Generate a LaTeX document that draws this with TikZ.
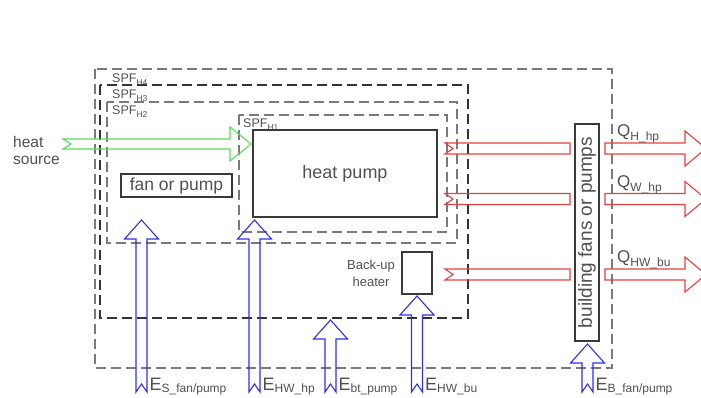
\documentclass[tikz,border=0pt]{standalone}
\usepackage{fontspec}
\setmainfont{Liberation Sans}
\usepackage{xcolor}
\usetikzlibrary{positioning}
\definecolor{txt}{HTML}{505050}
\definecolor{boxc}{HTML}{3A3A3A}
\definecolor{dashg}{HTML}{7A7A7A}
\definecolor{grn}{HTML}{55DD55}
\definecolor{rd}{HTML}{E54040}
\definecolor{blu}{HTML}{2F2FE6}
\newcommand{\spf}[1]{SPF\raisebox{-3.5pt}{\fontsize{8.5}{9}\selectfont #1}}
\newcommand{\qlab}[1]{{\fontsize{17}{18}\selectfont Q}\raisebox{-4pt}{\fontsize{12}{13}\selectfont #1}}
\newcommand{\elab}[1]{{\fontsize{18}{18}\selectfont E}\raisebox{-2pt}{\fontsize{12}{13}\selectfont #1}}

\begin{document}
\begin{tikzpicture}[x=1pt,y=-1pt,every node/.style={font=\fontsize{12.5}{14}\selectfont,text=txt,inner sep=0pt},
  box/.style={draw=boxc,line width=1.4pt},
  spfbox/.style={draw=dashg,line width=1.15pt,dash pattern=on 10pt off 5pt},
  srcarrow/.style={draw=grn,line width=1.1pt},
  outarrow/.style={draw=rd,line width=1.1pt},
  elecarrow/.style={draw=blu,line width=1.1pt}]
  \useasboundingbox (0,0) rectangle (701,397); \clip (0,0) rectangle (701,397);
  % system boundaries
  \draw[spfbox] (95,69) rectangle (612,368);
  \draw[spfbox,draw=black!80] (100,85) rectangle (468,318);
  \draw[spfbox] (107,102) rectangle (457,243);
  \draw[spfbox] (239,115) rectangle (447,232);
  \node[anchor=base west] (h4) at (112,82) {\spf{H4}};
  \node[anchor=base west] (h3) at (112,98) {\spf{H3}};
  \node[anchor=base west] (h2) at (112,114) {\spf{H2}};
  \node[anchor=base west] (h1) at (243,127) {\spf{H1}};
  % components
  \node[box,minimum width=184,minimum height=87,font=\fontsize{18}{20}\selectfont] (hp) at (345,173.5) {heat pump};
  \node[box,minimum width=111,minimum height=23,font=\fontsize{17.5}{20}\selectfont] (fan) at (176.5,185.5) {fan or pump};
  \node[box,minimum width=30,minimum height=42] (bu) at (417,273) {};
  \node[align=center,font=\fontsize{13}{17}\selectfont] (bulbl) at (371,273) {Back-up\\heater};
  \node[box,rotate=90,minimum width=217,minimum height=24,font=\fontsize{19}{20}\selectfont] (bfp) at (587,232.5) {building fans or pumps};
  \node[anchor=west,align=left,font=\fontsize{15.5}{17}\selectfont] (src) at (13,150) {heat\\source};
  % heat source
  \draw[srcarrow] (63,139) -- (230,139) -- (230,127) -- (251,144) -- (230,161) -- (230,149) -- (63,149) -- (71,144) -- cycle;
  % heat delivered
  \foreach \c/\q [count=\i] in {148.5/H\_hp,199/W\_hp,274.5/HW\_bu}{
    \draw[outarrow] (445,\c-5.5) -- (570,\c-5.5) -- (570,\c+5.5) -- (445,\c+5.5) -- (453,\c) -- cycle;
    \draw[outarrow] (605,\c-5.5) -- (685,\c-5.5) -- (685,\c-17.5) -- (706,\c) -- (685,\c+17.5) -- (685,\c+5.5) -- (605,\c+5.5) -- cycle;
    \node[anchor=base west] (q\i) at (617,\c-12) {\qlab{\q}};
  }
  % electricity
  \foreach \x/\t/\e [count=\i] in {141.5/220/{S\_fan/pump},254.5/220/{HW\_hp},330.5/320/{bt\_pump},417/296/{HW\_bu},587.5/344/{B\_fan/pump}}{
    \draw[elecarrow] (\x-5.5,392) -- (\x-5.5,\t+19) -- (\x-17,\t+19) -- (\x,\t) -- (\x+17,\t+19) -- (\x+5.5,\t+19) -- (\x+5.5,392) -- (\x,384) -- cycle;
    \node[anchor=base west] (e\i) at (\x+8,390) {\elab{\e}};
  }
\end{tikzpicture}
\end{document}
